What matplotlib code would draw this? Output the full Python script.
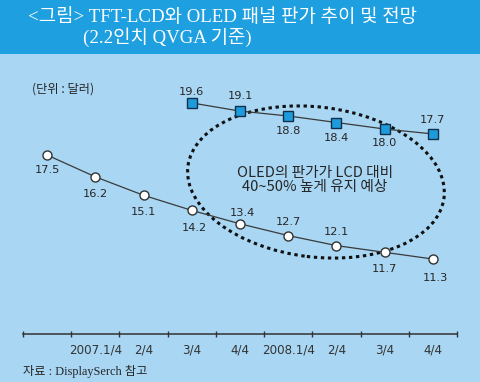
import matplotlib
matplotlib.use('Agg')
import matplotlib.pyplot as plt
from matplotlib.patches import Ellipse, Rectangle

plt.rcParams['font.family'] = ['Noto Sans CJK KR', 'DejaVu Sans']

# ---- data ----
categories = ['', '2007.1/4', '2/4', '3/4', '4/4', '2008.1/4', '2/4', '3/4', '4/4']
lcd_values = [17.5, 16.2, 15.1, 14.2, 13.4, 12.7, 12.1, 11.7, 11.3]
oled_values = [19.6, 19.1, 18.8, 18.4, 18.0, 17.7]
oled_start = 3
# label offsets (points) for value labels
lcd_label_dy = [-11, -12, -12, -13, 8, 10, 10, -12, -14]
lcd_label_dx = [0, 0, 0, 2, 2, 0, 0, 0, 2]
oled_label_dy = [8, 11, -11, -11, -10, 10]

title_1 = '<그림> TFT-LCD와 OLED 패널 판가 추이 및 전망'
title_2 = '(2.2인치 QVGA 기준)'
unit_text = '(단위 : 달러)'
source_text = '자료 : DisplaySerch 참고'
note_text = 'OLED의 판가가 LCD 대비\n40~50% 높게 유지 예상'

BG = '#A8D6F3'
BAR = '#1D9FE0'
TXT = '#262626'
NUM_FAM = ['DejaVu Sans']

W, H = 480, 382
fig = plt.figure(figsize=(W / 100, H / 100), dpi=100)
fig.patch.set_facecolor(BG)

# title bar
fig.patches.append(Rectangle((0, (H - 54) / H), 1, 54 / H, transform=fig.transFigure,
                             facecolor=BAR, edgecolor='none', zorder=0))
title_fam = ['Liberation Serif', 'Noto Sans CJK KR']
fig.text(28 / W, 1 - 17 / H, title_1, color='white', fontsize=13.6, family=title_fam,
         ha='left', va='center')
fig.text(83 / W, 1 - 37 / H, title_2, color='white', fontsize=13.6, family=title_fam,
         ha='left', va='center')

ax = fig.add_axes([23 / W, 48 / H, 434 / W, 264 / H])
ax.set_facecolor('none')
ax2 = ax.twinx()
ax2.set_facecolor('none')

x_lcd = list(range(len(lcd_values)))
x_oled = list(range(oled_start, oled_start + len(oled_values)))

ax.plot(x_lcd, lcd_values, color='#3a3a3a', lw=0.9, marker='o', markersize=6.5,
        markerfacecolor='white', markeredgecolor='#333333', markeredgewidth=1.0, zorder=5)
ax2.plot(x_oled, oled_values, color='#3a3a3a', lw=0.9, marker='s', markersize=6.5,
         markerfacecolor='#1E9BDD', markeredgecolor='#10304a', markeredgewidth=1.0, zorder=5)

for x, v, dx, dy in zip(x_lcd, lcd_values, lcd_label_dx, lcd_label_dy):
    ax.annotate(f'{v:.1f}', (x, v), xytext=(dx, dy), textcoords='offset points',
                ha='center', va='center', fontsize=8.2, color=TXT, family=NUM_FAM)
for x, v, dy in zip(x_oled, oled_values, oled_label_dy):
    ax2.annotate(f'{v:.1f}', (x, v), xytext=(0, dy), textcoords='offset points',
                 ha='center', va='center', fontsize=8.2, color=TXT, family=NUM_FAM)

ax.set_xlim(-0.5, len(categories) - 0.5)
ax.set_ylim(6.83, 22.57)
ax2.set_ylim(5.43, 21.62)

ax.set_xticks(x_lcd)
ax.set_xticklabels(categories, fontsize=8.6, color='#333333', family=NUM_FAM)
ax.set_xticks([i - 0.5 for i in range(len(categories) + 1)], minor=True)
ax.tick_params(axis='x', which='major', length=0, pad=7)
ax.tick_params(axis='x', which='minor', length=4, width=1, color='#333333', direction='inout')
ax.set_yticks([])
ax2.set_yticks([])
for a in (ax, ax2):
    for s in ('top', 'left', 'right', 'bottom'):
        a.spines[s].set_visible(False)
ax.spines['bottom'].set_visible(True)
ax.spines['bottom'].set_color('#333333')
ax.spines['bottom'].set_linewidth(1.1)

# dotted ellipse annotation (drawn beneath the series)
ell = Ellipse((3.16, 2.00), 2.58, 1.50, angle=-7, transform=fig.dpi_scale_trans,
              fill=False, edgecolor='#111111', lw=2.2, linestyle=(0, (1.1, 1.2)), zorder=3,
              clip_on=False)
ax.add_patch(ell)
fig.text(315 / W, 1 - 180 / H, note_text, fontsize=10.6, color=TXT, ha='center',
         va='center', linespacing=0.98)

fig.text(32 / W, 1 - 89 / H, unit_text, fontsize=8.8, color=TXT, ha='left', va='center')
fig.text(23 / W, 1 - 372 / H, source_text, fontsize=8.8, color=TXT, ha='left', va='center',
         family=title_fam)

fig.savefig('out.png', dpi=100, facecolor=BG)
